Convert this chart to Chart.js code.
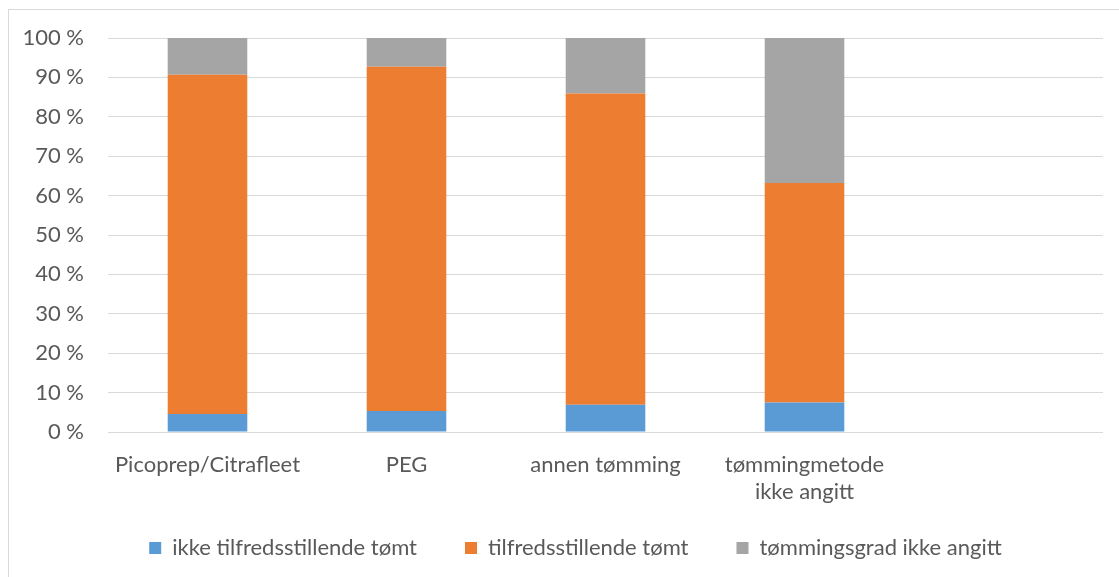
<!DOCTYPE html>
<html>
<head>
<meta charset="utf-8">
<script src="https://cdn.jsdelivr.net/npm/chart.js@4.4.1/dist/chart.umd.min.js"></script>
<style>
  html, body { margin: 0; padding: 0; background: #fff; }
  #wrap { position: relative; width: 1119px; height: 577px; overflow: hidden; }
  #frame { position: absolute; left: 8px; top: 9px; width: 1130px; height: 600px; border: 1px solid #d9d9d9; box-sizing: border-box; }
  canvas { position: absolute; left: 0; top: 0; }
</style>
</head>
<body>
<div id="wrap">
  <div id="frame"></div>
  <canvas id="c" width="1119" height="577"></canvas>
</div>
<script>
// Categories along the x axis (the last slot is left empty)
const categories = ['Picoprep/Citrafleet', 'PEG', 'annen tømming', ['tømmingmetode', 'ikke angitt'], ''];

// Share of each outcome, in percent
const ikkeTilfredsstillende = [4.6, 5.3, 6.9, 7.5, null];
const tilfredsstillende = [86.1, 87.4, 79.0, 55.7, null];
const ikkeAngitt = [9.3, 7.3, 14.1, 36.8, null];

const seriesNames = ['ikke tilfredsstillende tømt', 'tilfredsstillende tømt', 'tømmingsgrad ikke angitt'];
const seriesColors = ['#5B9BD5', '#ED7D31', '#A5A5A5'];

const yTicks = [0, 10, 20, 30, 40, 50, 60, 70, 80, 90, 100];

const textColor = '#595959';
const gridColor = '#d9d9d9';
const fontFamily = "Lato, 'Open Sans', sans-serif";
const fontSize = 22;

Chart.defaults.font.family = fontFamily;
Chart.defaults.color = textColor;

const datasets = [ikkeTilfredsstillende, tilfredsstillende, ikkeAngitt].map((vals, i) => ({
  label: seriesNames[i],
  data: vals,
  backgroundColor: seriesColors[i],
  borderWidth: 0,
  categoryPercentage: 1.0,
  barPercentage: 0.4
}));

// Nudge the legend row: a bit to the right and up, keeping wide gaps between items
const legendNudge = {
  id: 'legendNudge',
  afterLayout(chart) {
    const lg = chart.legend;
    if (!lg) return;
    lg.left += 24; lg.right += 24;
    lg.top -= 15; lg.bottom -= 15;
  }
};

new Chart(document.getElementById('c'), {
  type: 'bar',
  data: { labels: categories, datasets },
  plugins: [legendNudge],
  options: {
    responsive: false,
    animation: false,
    layout: { padding: { left: 0, top: 38, right: 16, bottom: -7 } },
    plugins: {
      tooltip: { enabled: false },
      legend: {
        position: 'bottom',
        labels: {
          boxWidth: 12,
          boxHeight: 12,
          padding: 48,
          color: textColor,
          font: { size: fontSize }
        }
      }
    },
    scales: {
      x: {
        stacked: true,
        grid: { display: false, drawTicks: false },
        border: { display: false },
        ticks: { color: textColor, font: { size: fontSize, lineHeight: 1.25 }, padding: 19, maxRotation: 0, autoSkip: false },
        afterFit: (s) => { s.height = 72; }
      },
      y: {
        stacked: true,
        min: 0,
        max: 100,
        afterBuildTicks: (s) => { s.ticks = yTicks.map(v => ({ value: v })); },
        grid: { color: gridColor, lineWidth: 1, drawTicks: false },
        border: { display: false },
        ticks: {
          color: textColor,
          font: { size: fontSize },
          padding: 24,
          callback: (v) => v + ' %'
        },
        afterFit: (s) => { s.width = 108; }
      }
    }
  }
});
</script>
</body>
</html>
